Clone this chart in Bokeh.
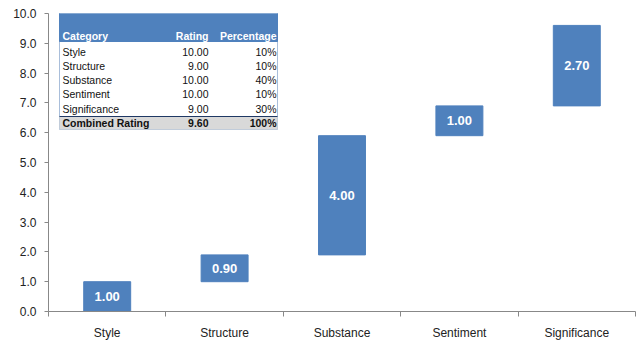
from bokeh.plotting import figure
from bokeh.models import Range1d, FixedTicker, NumeralTickFormatter, ColumnDataSource
from bokeh.core.properties import value
from bokeh.embed import file_html
from bokeh.resources import INLINE

# ---- data ----
categories = ["Style", "Structure", "Substance", "Sentiment", "Significance"]
contributions = [1.00, 0.90, 4.00, 1.00, 2.70]
ratings = [10.00, 9.00, 10.00, 10.00, 9.00]
percentages = [10, 10, 40, 10, 30]
combined_label = "Combined Rating"
combined_rating = 9.60
combined_pct = 100
y_ticks = [0, 1, 2, 3, 4, 5, 6, 7, 8, 9, 10]

FONT = "Liberation Sans"
BLUE = "#4F81BD"

# layout in pixels
W, H = 640, 352
FL, FR, FT, FB = 48, 635, 13, 311
NX = len(categories)
YMAX = 10.0

def X(px):
    return (px - FL) / (FR - FL) * NX

def Y(py):
    return (FB - py) / (FB - FT) * YMAX

p = figure(width=W, height=H, output_backend="svg", toolbar_location=None,
           x_range=Range1d(0, NX), y_range=Range1d(0, YMAX),
           min_border_left=FL, min_border_right=W - FR,
           min_border_top=FT, min_border_bottom=H - FB)
p.outline_line_color = None
p.xgrid.visible = False
p.ygrid.visible = False
p.background_fill_color = "white"
p.border_fill_color = "white"

# waterfall bars
bottoms = []
acc = 0.0
for v in contributions:
    bottoms.append(acc)
    acc += v
tops = [b + v for b, v in zip(bottoms, contributions)]
xs = [i + 0.5 for i in range(NX)]
src = ColumnDataSource(dict(x=xs, bottom=bottoms, top=tops,
                            mid=[(b + t) / 2 for b, t in zip(bottoms, tops)],
                            lbl=["%.2f" % v for v in contributions]))
p.vbar(x="x", bottom="bottom", top="top", width=0.4, source=src,
       fill_color=BLUE, line_color=BLUE)
p.text(x="x", y="mid", text="lbl", source=src, text_color="white",
       text_font=value(FONT), text_font_style="bold", text_font_size="13px",
       text_align="center", text_baseline="middle")

# axes
xa = p.xaxis[0]
xa.ticker = FixedTicker(ticks=xs, minor_ticks=list(range(NX + 1)))
xa.major_label_overrides = {x: c for x, c in zip(xs, categories)}
xa.major_tick_out = 0
xa.major_tick_in = 0
xa.minor_tick_out = 5
xa.minor_tick_in = 0
xa.axis_line_color = "#888888"
xa.minor_tick_line_color = "#888888"
xa.major_label_text_font = FONT
xa.major_label_text_font_size = "12px"
xa.major_label_text_color = "#222222"
xa.major_label_standoff = 9

ya = p.yaxis[0]
ya.ticker = FixedTicker(ticks=y_ticks)
ya.formatter = NumeralTickFormatter(format="0.0")
ya.major_tick_out = 4
ya.major_tick_in = 0
ya.minor_tick_line_color = None
ya.axis_line_color = "#888888"
ya.major_tick_line_color = "#888888"
ya.major_label_text_font = FONT
ya.major_label_text_font_size = "12px"
ya.major_label_text_color = "#222222"
ya.major_label_standoff = 8

# ---- table overlay ----
TL, TR, TT, TB = 59, 277, 12.5, 129
HB = 41          # header bottom
ROW0 = 51        # first row center
ROWH = 14.3
CB_TOP = 116     # combined row top
COL_CAT = 62
COL_RAT = 208
COL_PCT = 276
TFS = "10.5px"

p.quad(left=[X(TL)], right=[X(TR)], top=[Y(TT)], bottom=[Y(TB)],
       fill_color="white", line_color="#A9BEDA", line_width=1)
p.quad(left=[X(TL)], right=[X(TR)], top=[Y(TT)], bottom=[Y(HB)],
       fill_color=BLUE, line_color=BLUE)
p.quad(left=[X(TL)], right=[X(TR)], top=[Y(CB_TOP)], bottom=[Y(TB)],
       fill_color="#D9D9D9", line_color=None)
p.segment(x0=[X(TL)], x1=[X(TR)], y0=[Y(CB_TOP)], y1=[Y(CB_TOP)],
          line_color="#1F3864", line_width=1)

hy = Y(35)
p.text(x=[X(COL_CAT)], y=[hy], text=["Category"], text_color="white",
       text_font=value(FONT), text_font_style="bold", text_font_size=TFS,
       text_align="left", text_baseline="middle")
p.text(x=[X(COL_RAT), X(COL_PCT)], y=[hy, hy], text=["Rating", "Percentage"],
       text_color="white", text_font=value(FONT), text_font_style="bold",
       text_font_size=TFS, text_align="right", text_baseline="middle")

row_y = [Y(ROW0 + i * ROWH) for i in range(len(categories))]
p.text(x=[X(COL_CAT)] * len(categories), y=row_y, text=categories,
       text_color="#111111", text_font=value(FONT), text_font_size=TFS,
       text_align="left", text_baseline="middle")
p.text(x=[X(COL_RAT)] * len(categories), y=row_y,
       text=["%.2f" % r for r in ratings],
       text_color="#111111", text_font=value(FONT), text_font_size=TFS,
       text_align="right", text_baseline="middle")
p.text(x=[X(COL_PCT)] * len(categories), y=row_y,
       text=["%d%%" % q for q in percentages],
       text_color="#111111", text_font=value(FONT), text_font_size=TFS,
       text_align="right", text_baseline="middle")

cy = Y(122.5)
p.text(x=[X(COL_CAT)], y=[cy], text=[combined_label], text_color="#111111",
       text_font=value(FONT), text_font_style="bold", text_font_size=TFS,
       text_align="left", text_baseline="middle")
p.text(x=[X(COL_RAT), X(COL_PCT)], y=[cy, cy],
       text=["%.2f" % combined_rating, "%d%%" % combined_pct],
       text_color="#111111", text_font=value(FONT), text_font_style="bold",
       text_font_size=TFS, text_align="right", text_baseline="middle")

open("out.html", "w").write(file_html(p, INLINE))
